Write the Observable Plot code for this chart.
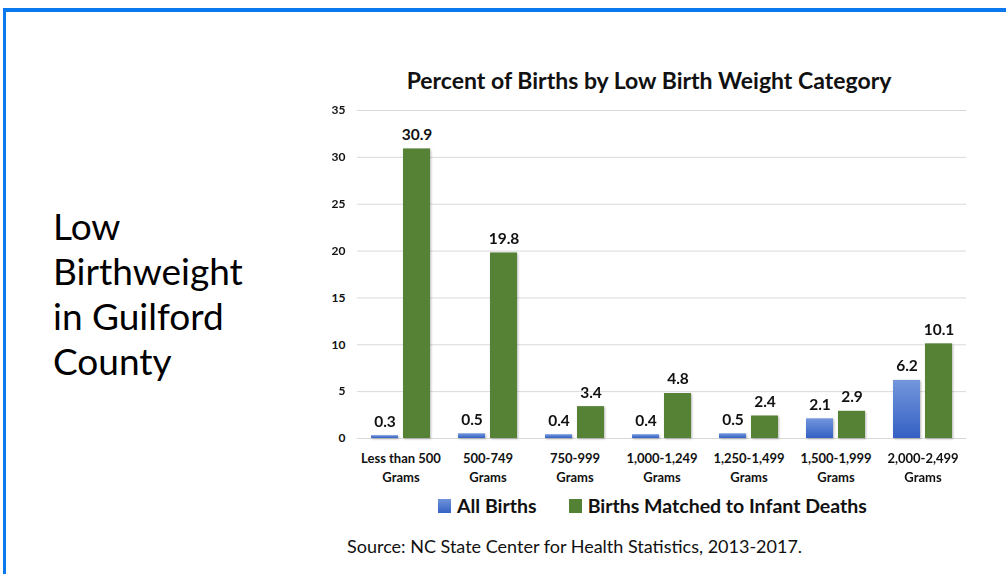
<!DOCTYPE html>
<html>
<head>
<meta charset="utf-8">
<script src="https://cdn.jsdelivr.net/npm/d3@7"></script>
<script src="https://cdn.jsdelivr.net/npm/@observablehq/plot@0.6"></script>
<style>
  html, body { margin: 0; padding: 0; background: #fff; }
  body { width: 1006px; height: 574px; position: relative; overflow: hidden; font-family: Lato, "Open Sans", sans-serif; }
  .frame-top { position: absolute; left: 3px; top: 8px; width: 1003px; height: 4px; background: #0a78ee; }
  .frame-left { position: absolute; left: 3px; top: 8px; width: 3px; height: 566px; background: #0a78ee; }
  .side { position: absolute; left: 53px; top: 203px; font-size: 37px; line-height: 45px; color: #000; font-family: Lato, sans-serif; }
  .title { position: absolute; left: 300px; width: 698px; top: 66px; text-align: center; font-weight: bold; font-size: 23px; color: #111; }
  #chart { position: absolute; left: 300px; top: 90px; }
  .legend { position: absolute; left: 438px; top: 494px; font-weight: bold; font-size: 19.5px; color: #111; display: flex; align-items: center; white-space: nowrap; }
  .sw { display: inline-block; width: 13px; height: 14px; margin-right: 6px; }
  .source { position: absolute; left: 347px; top: 535px; font-size: 18px; color: #111; }
</style>
</head>
<body>
<div class="frame-top"></div>
<div class="frame-left"></div>
<div class="side">Low<br>Birthweight<br>in Guilford<br>County</div>
<div class="title">Percent of Births by Low Birth Weight Category</div>
<div id="chart"></div>
<div class="legend">
  <span class="sw" style="background:linear-gradient(#6f92da,#3563c4)"></span><span>All Births</span>
  <span class="sw" style="background:#548235;margin-left:32px"></span><span>Births Matched to Infant Deaths</span>
</div>
<div class="source">Source: NC State Center for Health Statistics, 2013-2017.</div>
<script>
const categories = ["Less than 500\nGrams", "500-749\nGrams", "750-999\nGrams", "1,000-1,249\nGrams", "1,250-1,499\nGrams", "1,500-1,999\nGrams", "2,000-2,499\nGrams"];
const seriesNames = ["All Births", "Births Matched to Infant Deaths"];
const allBirths = [0.3, 0.5, 0.4, 0.4, 0.5, 2.1, 6.2];
const infantDeaths = [30.9, 19.8, 3.4, 4.8, 2.4, 2.9, 10.1];
const yTicks = [0, 5, 10, 15, 20, 25, 30, 35];

const data = categories.flatMap((c, i) => [
  {cat: c, series: seriesNames[0], value: allBirths[i]},
  {cat: c, series: seriesNames[1], value: infantDeaths[i]}
]);

const chart = Plot.plot({
  width: 690,
  height: 400,
  marginLeft: 57,
  marginRight: 24,
  marginTop: 20,
  marginBottom: 52,
  style: {fontFamily: "Lato, sans-serif", fontWeight: "bold", fontSize: "12px", color: "#111", background: "transparent"},
  fx: {domain: categories, paddingInner: 0, paddingOuter: 0, label: null},
  x: {domain: seriesNames, paddingInner: 0.15, paddingOuter: 0.394, axis: null},
  y: {domain: [0, 35], label: null},
  marks: [
    Plot.gridY(yTicks, {stroke: "#d9d9d9", strokeOpacity: 1, strokeWidth: 1}),
    Plot.barY(data.filter(d => d.series === seriesNames[0]), {fx: "cat", x: "series", y: "value", fill: "url(#blueGrad)"}),
    Plot.barY(data.filter(d => d.series === seriesNames[1]), {fx: "cat", x: "series", y: "value", fill: "#548235"}),
    Plot.text(data, {fx: "cat", x: "series", y: "value", text: d => d.value.toFixed(1), dy: -14, fontSize: 15.5, fontWeight: "bold", fill: "#111"}),
    Plot.axisY({ticks: yTicks, tickSize: 0, tickPadding: 12, label: null, fontSize: 12}),
    Plot.axisFx({anchor: "bottom", tickSize: 0, tickPadding: 12, label: null, lineHeight: 1.4, fontSize: 13})
  ]
});

const svg = chart.tagName.toLowerCase() === "svg" ? chart : chart.querySelector("svg");
const ns = "http://www.w3.org/2000/svg";
const defs = document.createElementNS(ns, "defs");
defs.innerHTML = `
  <linearGradient id="blueGrad" x1="0" y1="0" x2="0" y2="1">
    <stop offset="0" stop-color="#7396dc"/>
    <stop offset="1" stop-color="#3461c3"/>
  </linearGradient>
  <filter id="shadow" x="-20%" y="-20%" width="140%" height="140%">
    <feDropShadow dx="1" dy="1" stdDeviation="1" flood-color="#000" flood-opacity="0.28"/>
  </filter>`;
svg.insertBefore(defs, svg.firstChild);
svg.querySelectorAll("g[aria-label='bar']").forEach(g => g.setAttribute("filter", "url(#shadow)"));
document.getElementById("chart").appendChild(chart);
</script>
</body>
</html>
